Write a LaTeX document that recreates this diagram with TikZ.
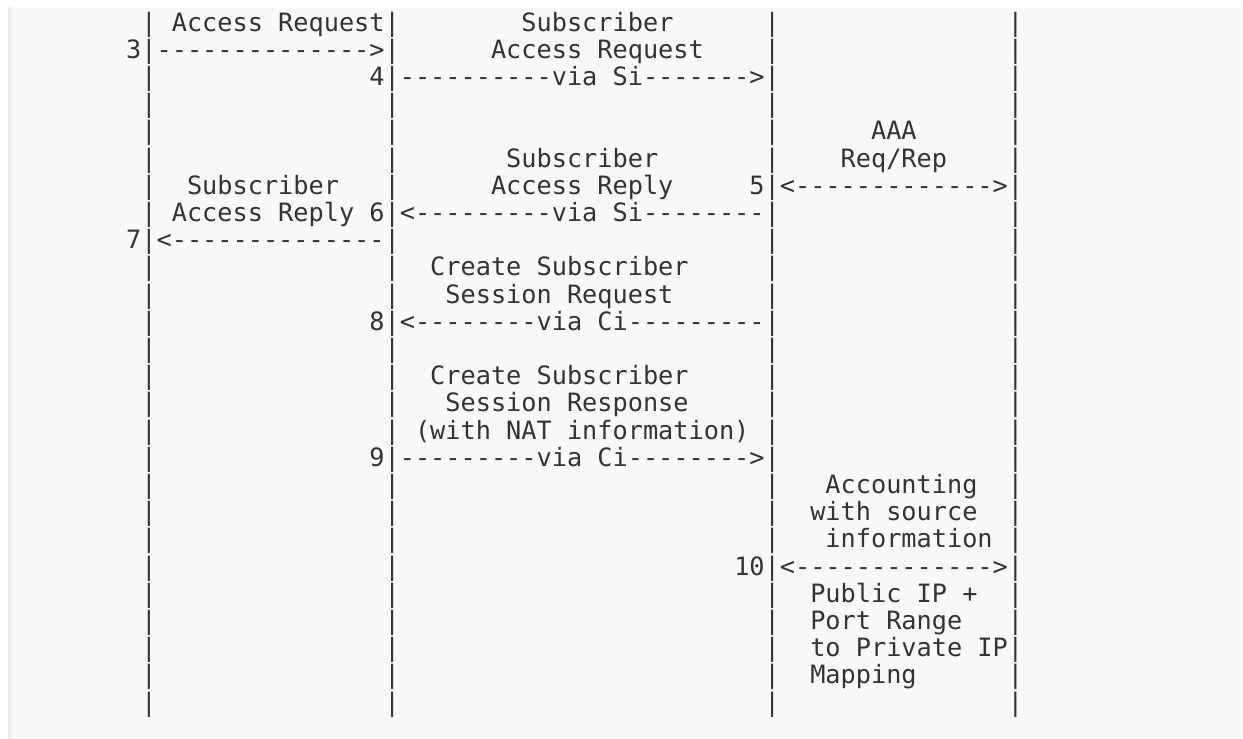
\documentclass[tikz,border=0pt]{standalone}
\usepackage{fontspec}
\setmonofont{DejaVu Sans Mono}
\definecolor{ink}{HTML}{333333}
\definecolor{panel}{HTML}{F8F8F8}
\definecolor{edge}{HTML}{EBEBEB}
\newcommand\s[1]{\kern#1\fontcharwd\font`0\relax}
\tikzset{
  asciirow/.style={anchor=base west, inner sep=0pt, outer sep=0pt, text=ink,
    font=\fontsize{25.25pt}{27.2pt}\selectfont\ttfamily}
}
\begin{document}
\begin{tikzpicture}[x=1pt, y=-1pt]
\useasboundingbox (0,0) rectangle (1243,739);
\fill[white] (0,0) rectangle (1243,739);
\fill[panel] (8,7) rectangle (1242,739);
\fill[edge] (8,7) rectangle (11,739);
\def\xo{126.2}
\def\ry#1{31+(#1-1)*27.2}
\node[asciirow] (r1)  at (\xo,{\ry{1}})  {\s1|\s1Access Request|\s8Subscriber\s6|\s{15}|};
\node[asciirow] (r2)  at (\xo,{\ry{2}})  {3|-------------->|\s6Access Request\s4|\s{15}|};
\node[asciirow] (r3)  at (\xo,{\ry{3}})  {\s1|\s{14}4|----------via Si------->|\s{15}|};
\node[asciirow] (r4)  at (\xo,{\ry{4}})  {\s1|\s{15}|\s{24}|\s{15}|};
\node[asciirow] (r5)  at (\xo,{\ry{5}})  {\s1|\s{15}|\s{24}|\s6AAA\s6|};
\node[asciirow] (r6)  at (\xo,{\ry{6}})  {\s1|\s{15}|\s7Subscriber\s7|\s4Req/Rep\s4|};
\node[asciirow] (r7)  at (\xo,{\ry{7}})  {\s1|\s2Subscriber\s3|\s6Access Reply\s{5}5|<------------->|};
\node[asciirow] (r8)  at (\xo,{\ry{8}})  {\s1|\s1Access Reply 6|<---------via Si--------|\s{15}|};
\node[asciirow] (r9)  at (\xo,{\ry{9}})  {7|<--------------|\s{24}|\s{15}|};
\node[asciirow] (r10) at (\xo,{\ry{10}}) {\s1|\s{15}|\s2Create Subscriber\s5|\s{15}|};
\node[asciirow] (r11) at (\xo,{\ry{11}}) {\s1|\s{15}|\s3Session Request\s6|\s{15}|};
\node[asciirow] (r12) at (\xo,{\ry{12}}) {\s1|\s{14}8|<--------via Ci---------|\s{15}|};
\node[asciirow] (r13) at (\xo,{\ry{13}}) {\s1|\s{15}|\s{24}|\s{15}|};
\node[asciirow] (r14) at (\xo,{\ry{14}}) {\s1|\s{15}|\s2Create Subscriber\s5|\s{15}|};
\node[asciirow] (r15) at (\xo,{\ry{15}}) {\s1|\s{15}|\s3Session Response\s5|\s{15}|};
\node[asciirow] (r16) at (\xo,{\ry{16}}) {\s1|\s{15}|\s1(with NAT information)\s1|\s{15}|};
\node[asciirow] (r17) at (\xo,{\ry{17}}) {\s1|\s{14}9|---------via Ci-------->|\s{15}|};
\node[asciirow] (r18) at (\xo,{\ry{18}}) {\s1|\s{15}|\s{24}|\s3Accounting\s2|};
\node[asciirow] (r19) at (\xo,{\ry{19}}) {\s1|\s{15}|\s{24}|\s2with source\s2|};
\node[asciirow] (r20) at (\xo,{\ry{20}}) {\s1|\s{15}|\s{24}|\s3information\s1|};
\node[asciirow] (r21) at (\xo,{\ry{21}}) {\s1|\s{15}|\s{22}10|<------------->|};
\node[asciirow] (r22) at (\xo,{\ry{22}}) {\s1|\s{15}|\s{24}|\s2Public IP +\s2|};
\node[asciirow] (r23) at (\xo,{\ry{23}}) {\s1|\s{15}|\s{24}|\s2Port Range\s3|};
\node[asciirow] (r24) at (\xo,{\ry{24}}) {\s1|\s{15}|\s{24}|\s2to Private IP|};
\node[asciirow] (r25) at (\xo,{\ry{25}}) {\s1|\s{15}|\s{24}|\s2Mapping\s6|};
\node[asciirow] (r26) at (\xo,{\ry{26}}) {\s1|\s{15}|\s{24}|\s{15}|};
\end{tikzpicture}
\end{document}
